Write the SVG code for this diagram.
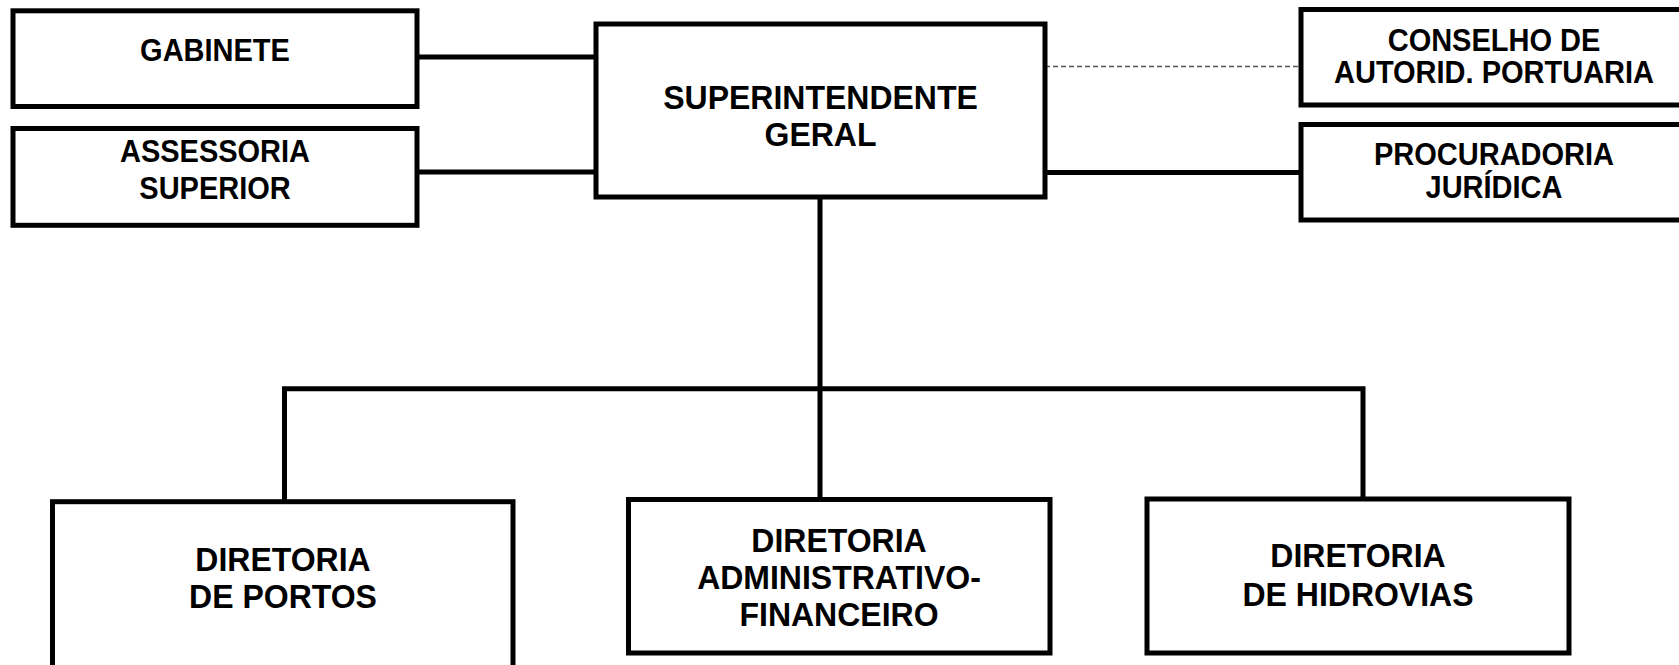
<svg xmlns="http://www.w3.org/2000/svg" width="1679" height="665" viewBox="0 0 1679 665">
<style>
.box{fill:#fff;stroke:#000;stroke-width:5}
.ln{fill:none;stroke:#000;stroke-width:5}
.dash{fill:none;stroke:#555;stroke-width:1.3;stroke-dasharray:5 3}
text{font-family:"Liberation Sans",Arial,sans-serif;font-weight:bold;fill:#000;text-anchor:middle}
.s{font-size:29px}
.l{font-size:32px}
</style>
<rect width="1679" height="665" fill="#fff"/>
<g id="connectors">
<line class="ln" x1="417" y1="57" x2="596" y2="57"/>
<line class="ln" x1="417" y1="172" x2="596" y2="172"/>
<line class="dash" x1="1045" y1="66.5" x2="1301" y2="66.5"/>
<line class="ln" x1="1045" y1="172.5" x2="1301" y2="172.5"/>
<line class="ln" x1="820" y1="197" x2="820" y2="500"/>
<path class="ln" d="M284.5 501 V388.7 H1363 V499"/>
</g>
<g id="gabinete">
<rect class="box" x="13" y="10.8" width="404" height="95.7"/>
<text class="s" transform="translate(215 61) scale(1 1.06)">GABINETE</text>
</g>
<g id="assessoria">
<rect class="box" x="13" y="128.5" width="404" height="96.8"/>
<text class="s" transform="translate(215 162) scale(1 1.06)">ASSESSORIA</text>
<text class="s" transform="translate(215 199) scale(1 1.06)">SUPERIOR</text>
</g>
<g id="superintendente">
<rect class="box" x="596" y="24" width="449" height="173"/>
<text class="l" transform="translate(820.5 108.5) scale(1 1.05)">SUPERINTENDENTE</text>
<text class="l" transform="translate(820.5 145.5) scale(1 1.05)">GERAL</text>
</g>
<g id="conselho">
<rect class="box" x="1301" y="9.5" width="400" height="95.5"/>
<text class="s" transform="translate(1494 50.5) scale(1 1.06)">CONSELHO DE</text>
<text class="s" transform="translate(1494 83) scale(1 1.06)">AUTORID. PORTUARIA</text>
</g>
<g id="procuradoria">
<rect class="box" x="1301" y="124.5" width="400" height="95.5"/>
<text class="s" transform="translate(1494 165) scale(1 1.06)">PROCURADORIA</text>
<text class="s" transform="translate(1494 198) scale(1 1.06)">JURÍDICA</text>
</g>
<g id="dir-portos">
<rect class="box" x="52.5" y="501.7" width="460.5" height="220"/>
<text class="l" transform="translate(283 570.5) scale(1 1.05)">DIRETORIA</text>
<text class="l" transform="translate(283 607.5) scale(1 1.05)">DE PORTOS</text>
</g>
<g id="dir-adm">
<rect class="box" x="628.5" y="499.5" width="421.5" height="153.5"/>
<text class="l" transform="translate(839 551.5) scale(1 1.05)">DIRETORIA</text>
<text class="l" transform="translate(839 589) scale(1 1.05)">ADMINISTRATIVO-</text>
<text class="l" transform="translate(839 625.5) scale(1 1.05)">FINANCEIRO</text>
</g>
<g id="dir-hidrovias">
<rect class="box" x="1147" y="499" width="422" height="154"/>
<text class="l" transform="translate(1358 566.5) scale(1 1.05)">DIRETORIA</text>
<text class="l" transform="translate(1358 605.5) scale(1 1.05)">DE HIDROVIAS</text>
</g>
</svg>
